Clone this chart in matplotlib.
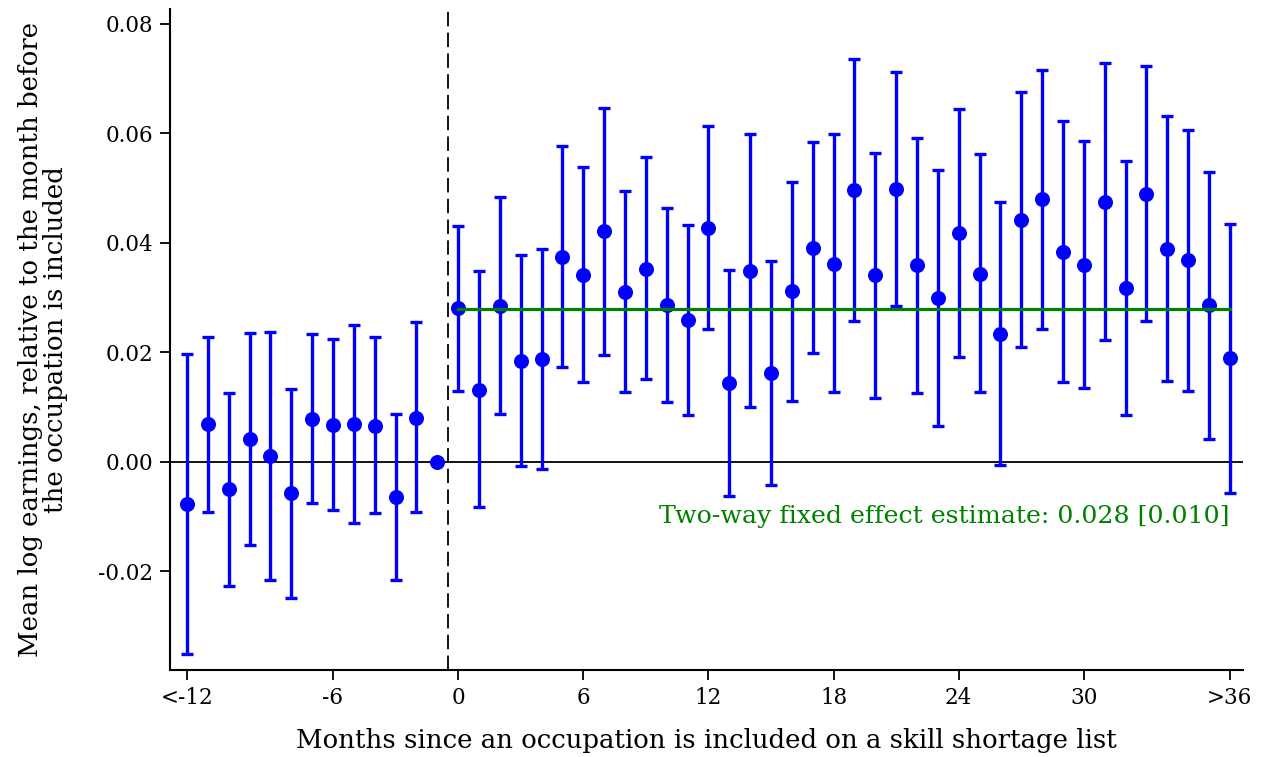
import matplotlib
matplotlib.use("Agg")
from matplotlib import pyplot as plt

# months since inclusion (-13 = "<-12", 37 = ">36"), -1 is the reference month
months = list(range(-13, 38))

coef = [-0.0077, 0.0069, -0.0050, 0.0041, 0.0010, -0.0057, 0.0079, 0.0068, 0.0069, 0.0066, -0.0065, 0.0081,
        0.0,
        0.0281, 0.0132, 0.0285, 0.0185, 0.0188, 0.0374, 0.0342, 0.0421, 0.0311, 0.0353, 0.0287, 0.0259,
        0.0428, 0.0144, 0.0349, 0.0162, 0.0312, 0.0391, 0.0362, 0.0496, 0.0341, 0.0499, 0.0359, 0.0300,
        0.0418, 0.0344, 0.0234, 0.0442, 0.0480, 0.0384, 0.0360, 0.0475, 0.0318, 0.0490, 0.0389, 0.0368,
        0.0286, 0.0189]

upper = [0.0197, 0.0229, 0.0125, 0.0235, 0.0237, 0.0133, 0.0233, 0.0225, 0.0250, 0.0228, 0.0088, 0.0256,
         0.0,
         0.0431, 0.0348, 0.0483, 0.0377, 0.0388, 0.0577, 0.0538, 0.0647, 0.0494, 0.0556, 0.0464, 0.0432,
         0.0614, 0.0350, 0.0598, 0.0367, 0.0512, 0.0584, 0.0598, 0.0735, 0.0564, 0.0713, 0.0592, 0.0534,
         0.0644, 0.0562, 0.0475, 0.0675, 0.0716, 0.0623, 0.0586, 0.0728, 0.0550, 0.0723, 0.0632, 0.0606,
         0.0530, 0.0435]

lower = [-0.0351, -0.0092, -0.0226, -0.0152, -0.0216, -0.0248, -0.0075, -0.0088, -0.0111, -0.0094, -0.0216, -0.0092,
         0.0,
         0.0130, -0.0083, 0.0088, -0.0007, -0.0013, 0.0173, 0.0146, 0.0196, 0.0127, 0.0151, 0.0110, 0.0086,
         0.0243, -0.0062, 0.0101, -0.0043, 0.0111, 0.0199, 0.0127, 0.0258, 0.0117, 0.0284, 0.0125, 0.0066,
         0.0192, 0.0127, -0.0005, 0.0210, 0.0243, 0.0145, 0.0135, 0.0222, 0.0085, 0.0258, 0.0147, 0.0130,
         0.0041, -0.0056]

twfe = 0.028
twfe_se = 0.010

xtick_pos = [-13, -6, 0, 6, 12, 18, 24, 30, 37]
xtick_lab = ['<-12', '-6', '0', '6', '12', '18', '24', '30', '>36']
ytick_pos = [-0.02, 0.0, 0.02, 0.04, 0.06, 0.08]

plt.rcParams['font.family'] = ['DejaVu Serif']

fig = plt.figure(figsize=(12.63, 7.57), dpi=100)
ax = fig.add_axes([0.1346, 0.115, 0.8494, 0.873])

ax.axhline(0, color='black', lw=1.3, zorder=1)
ax.axvline(-0.5, color='black', lw=1.3, ls=(0, (8, 3.5)), zorder=1)

# error bars (skip the reference month)
for m, c, lo, hi in zip(months, coef, lower, upper):
    if m == -1:
        continue
    ax.errorbar(m, c, yerr=[[c - lo], [hi - c]], fmt='none', ecolor='#0000ff',
                elinewidth=2.4, capsize=4.5, capthick=2.4, zorder=2)

ax.plot(months, coef, 'o', color='#0000ff', ms=9.8, zorder=3)

ax.plot([0, 37], [twfe, twfe], color='#008000', lw=2.3, zorder=4)
ax.text(37, -twfe_se, 'Two-way fixed effect estimate: %.3f [%.3f]' % (twfe, twfe_se),
        color='#008000', fontsize=18.2, ha='right', va='center')

ax.set_xlim(-13.815, 37.62)
ax.set_ylim(-0.038, 0.0827)
ax.set_xticks(xtick_pos)
ax.set_xticklabels(xtick_lab)
ax.set_yticks(ytick_pos)
ax.set_yticklabels(['%.2f' % v for v in ytick_pos])
ax.tick_params(direction='out', length=7, width=1.3, labelsize=15.5, pad=5)

for s in ['top', 'right']:
    ax.spines[s].set_visible(False)
for s in ['left', 'bottom']:
    ax.spines[s].set_linewidth(1.5)

ax.set_xlabel('Months since an occupation is included on a skill shortage list', fontsize=18.7, labelpad=14)
ax.set_ylabel('Mean log earnings, relative to the month before\nthe occupation is included',
              fontsize=18.7, labelpad=22, linespacing=1.0)

fig.savefig('out.png', dpi=100)
